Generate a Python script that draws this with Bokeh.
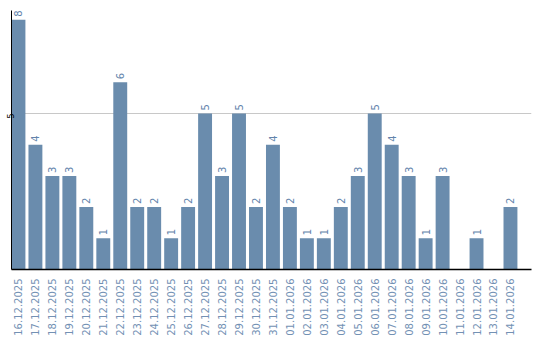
import math
from bokeh.plotting import figure
from bokeh.models import ColumnDataSource, FixedTicker, Range1d
from bokeh.core.properties import value
from bokeh.embed import file_html
from bokeh.resources import INLINE

dates = ["16.12.2025", "17.12.2025", "18.12.2025", "19.12.2025", "20.12.2025",
         "21.12.2025", "22.12.2025", "23.12.2025", "24.12.2025", "25.12.2025",
         "26.12.2025", "27.12.2025", "28.12.2025", "29.12.2025", "30.12.2025",
         "31.12.2025", "01.01.2026", "02.01.2026", "03.01.2026", "04.01.2026",
         "05.01.2026", "06.01.2026", "07.01.2026", "08.01.2026", "09.01.2026",
         "10.01.2026", "11.01.2026", "12.01.2026", "13.01.2026", "14.01.2026"]
counts = [8, 4, 3, 3, 2, 1, 6, 2, 2, 1, 2, 5, 3, 5, 2, 4, 2, 1, 1, 2,
          3, 5, 4, 3, 1, 3, 0, 1, 0, 2]
y_ticks = [5]

xs = list(range(len(dates)))
src = ColumnDataSource(dict(x=xs, top=counts))
lab_x = [x for x, c in zip(xs, counts) if c > 0]
lab_y = [c for c in counts if c > 0]
lab_t = [str(c) for c in counts if c > 0]
lab_src = ColumnDataSource(dict(x=lab_x, y=lab_y, t=lab_t))

p = figure(width=540, height=340, output_backend="svg", toolbar_location=None,
           x_range=Range1d(-0.41, 30.24), y_range=Range1d(0, 8.3),
           min_border_left=0, min_border_right=9, min_border_top=10,
           min_border_bottom=71)
p.outline_line_color = None
p.background_fill_color = "white"
p.border_fill_color = "white"

p.vbar(x="x", top="top", width=0.82, bottom=0, source=src,
       fill_color="#6a8cad", line_color=None)

p.text(x="x", y="y", text="t", source=lab_src, angle=math.pi / 2,
       text_align="left", text_baseline="middle", y_offset=-3,
       text_font=value("DejaVu Sans"), text_font_size="10px",
       text_color="#6283ab")

p.xgrid.grid_line_color = None
p.ygrid.grid_line_color = "#c8c8c8"
p.ygrid.ticker = FixedTicker(ticks=y_ticks)

p.xaxis.ticker = FixedTicker(ticks=xs)
p.xaxis.major_label_overrides = {i: d for i, d in enumerate(dates)}
p.xaxis.major_label_orientation = math.pi / 2
p.xaxis.major_label_text_font = "DejaVu Sans"
p.xaxis.major_label_text_font_size = "10px"
p.xaxis.major_label_text_color = "#7391b4"
p.xaxis.major_label_standoff = 9
p.xaxis.major_tick_in = 0
p.xaxis.major_tick_out = 0
p.xaxis.minor_tick_in = 0
p.xaxis.minor_tick_out = 0
p.xaxis.axis_line_color = "black"
p.xaxis.axis_line_width = 1.5

p.yaxis.ticker = FixedTicker(ticks=y_ticks)
p.yaxis.major_label_orientation = math.pi / 2
p.yaxis.major_label_text_font = "DejaVu Sans"
p.yaxis.major_label_text_font_size = "8px"
p.yaxis.major_label_text_color = "black"
p.yaxis.major_label_standoff = 1
p.yaxis.major_tick_in = 0
p.yaxis.major_tick_out = 0
p.yaxis.minor_tick_in = 0
p.yaxis.minor_tick_out = 0
p.yaxis.axis_line_color = "black"

open("out.html", "w").write(file_html(p, INLINE))
